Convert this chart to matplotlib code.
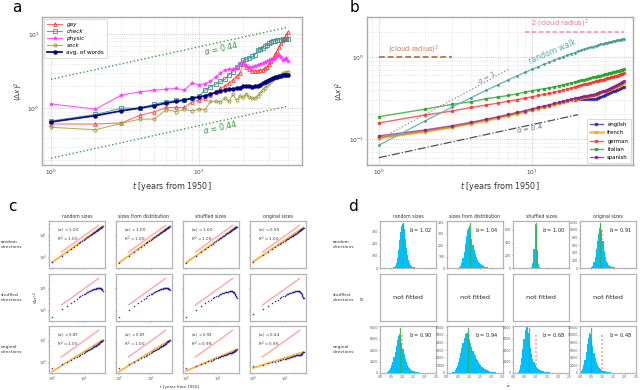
import matplotlib
matplotlib.use("Agg")
import matplotlib.pyplot as plt
from matplotlib.ticker import NullFormatter, FixedLocator

# ======================= DATA =======================
years = list(range(1, 41))

# ---- panel a ----
a_gay = [0.61, 0.61, 0.63, 0.80, 0.89, 1.02, 1.02, 1.02, 1.22, 1.28,
         1.35, 1.50, 1.65, 1.85, 2.0, 2.2, 2.4, 2.7, 3.0, 3.9,
         3.6, 3.4, 3.2, 3.2, 3.2, 3.3, 3.3, 3.5, 3.6, 3.9,
         4.3, 4.8, 5.4, 6.0, 6.8, 7.6, 8.3, 9.0, 9.8, 10.6]
a_check = [0.67, 0.82, 1.0, 1.0, 1.13, 1.22, 1.27, 1.30, 1.38, 1.45,
           1.75, 1.95, 2.1, 2.3, 2.45, 2.8, 3.1, 3.6, 3.9, 4.45,
           4.6, 4.8, 5.0, 5.3, 6.1, 6.3, 6.6, 6.9, 7.2, 7.5,
           7.8, 8.0, 8.2, 8.3, 8.4, 8.4, 8.5, 8.5, 8.6, 8.5]
a_physic = [1.14, 0.97, 1.5, 1.66, 1.75, 1.8, 1.85, 1.75, 2.2, 2.05,
            2.15, 2.3, 2.65, 2.95, 3.3, 3.35, 3.4, 3.45, 4.0, 4.2,
            3.8, 3.6, 3.65, 3.75, 3.85, 3.95, 4.05, 4.15, 4.3, 4.45,
            4.55, 4.65, 4.8, 5.0, 5.2, 4.9, 4.5, 4.65, 4.8, 4.35]
a_sock = [0.55, 0.51, 0.62, 0.71, 0.71, 0.95, 0.90, 0.96, 0.92, 0.96,
          0.95, 1.23, 1.23, 1.21, 1.36, 1.23, 1.53, 1.29, 1.44, 1.40,
          1.55, 1.40, 1.35, 1.35, 1.45, 1.6, 1.75, 1.9, 2.05, 2.2,
          2.35, 2.45, 2.55, 2.65, 2.75, 2.85, 2.95, 3.0, 3.05, 3.1]
a_avg = [0.65, 0.79, 0.92, 1.0, 1.08, 1.17, 1.23, 1.29, 1.35, 1.41,
         1.47, 1.55, 1.63, 1.70, 1.75, 1.80, 1.83, 1.85, 1.90, 2.0,
         2.0, 1.97, 1.96, 1.97, 2.02, 2.08, 2.16, 2.25, 2.35, 2.43,
         2.5, 2.56, 2.62, 2.67, 2.71, 2.74, 2.77, 2.79, 2.80, 2.81]
a_ref_alpha = 0.44
a_ref_upper = 2.45
a_ref_lower = 0.21
a_ref_span = [1, 40]

# ---- panel b ----
b_english = [0.105, 0.125, 0.141, 0.156, 0.170, 0.183, 0.195, 0.206, 0.217, 0.228,
             0.238, 0.247, 0.256, 0.265, 0.274, 0.283, 0.291, 0.298, 0.303, 0.306,
             0.306, 0.305, 0.304, 0.305, 0.307, 0.311, 0.317, 0.324, 0.332, 0.341,
             0.350, 0.360, 0.370, 0.380, 0.390, 0.400, 0.410, 0.418, 0.426, 0.433]
b_french = [0.103, 0.124, 0.140, 0.155, 0.168, 0.181, 0.193, 0.204, 0.215, 0.226,
            0.236, 0.245, 0.254, 0.263, 0.272, 0.281, 0.289, 0.297, 0.305, 0.312,
            0.318, 0.323, 0.328, 0.334, 0.340, 0.347, 0.355, 0.363, 0.372, 0.381,
            0.390, 0.399, 0.408, 0.417, 0.426, 0.436, 0.446, 0.456, 0.466, 0.476]
b_german = [0.158, 0.197, 0.220, 0.243, 0.260, 0.275, 0.290, 0.302, 0.315, 0.328,
            0.340, 0.350, 0.360, 0.372, 0.383, 0.395, 0.406, 0.418, 0.430, 0.442,
            0.453, 0.464, 0.474, 0.484, 0.494, 0.503, 0.512, 0.521, 0.530, 0.539,
            0.548, 0.557, 0.566, 0.575, 0.584, 0.593, 0.602, 0.610, 0.619, 0.628]
b_italian = [0.188, 0.232, 0.265, 0.285, 0.310, 0.325, 0.340, 0.355, 0.372, 0.388,
             0.400, 0.410, 0.420, 0.433, 0.445, 0.457, 0.469, 0.481, 0.493, 0.505,
             0.517, 0.528, 0.539, 0.550, 0.561, 0.572, 0.582, 0.592, 0.602, 0.612,
             0.622, 0.632, 0.642, 0.652, 0.662, 0.671, 0.680, 0.689, 0.698, 0.710]
b_spanish = [0.110, 0.130, 0.146, 0.161, 0.175, 0.188, 0.200, 0.212, 0.223, 0.234,
             0.244, 0.254, 0.263, 0.272, 0.281, 0.290, 0.298, 0.306, 0.313, 0.320,
             0.326, 0.331, 0.336, 0.342, 0.348, 0.355, 0.363, 0.371, 0.380, 0.389,
             0.398, 0.408, 0.418, 0.428, 0.439, 0.450, 0.463, 0.477, 0.493, 0.510]
b_random_walk = [0.085, 0.167, 0.245, 0.319, 0.391, 0.459, 0.525, 0.587, 0.647, 0.705,
                 0.760, 0.813, 0.863, 0.912, 0.958, 1.002, 1.045, 1.085, 1.124, 1.161,
                 1.197, 1.231, 1.264, 1.296, 1.326, 1.354, 1.382, 1.408, 1.433, 1.457,
                 1.480, 1.502, 1.524, 1.544, 1.563, 1.582, 1.600, 1.617, 1.633, 1.649]
b_cloud_r2 = 1.0
b_cloud_span = [1, 3]
b_two_cloud_span = [9, 40]
b_ref1_coef, b_ref1_alpha, b_ref1_span = 0.1, 1.0, [1, 7]
b_ref04_coef, b_ref04_alpha, b_ref04_span = 0.06, 0.4, [1, 20]

# ---- panel c ----
c_col_titles = ["random sizes", "sizes from distribution", "shuffled sizes", "original sizes"]
c_row_titles = ["random\ndirections", "shuffled\ndirections", "original\ndirections"]

c_randsize_randdir = [0.58, 1.16, 1.74, 2.32, 2.9, 3.48, 4.06, 4.64, 5.22, 5.8,
                      6.38, 6.96, 7.54, 8.12, 8.7, 9.28, 9.86, 10.4, 11.0, 11.6,
                      12.2, 12.8, 13.3, 13.9, 14.5, 15.1, 15.7, 16.2, 16.8, 17.4,
                      18.0, 18.6, 19.1, 19.7, 20.3, 20.9, 21.5, 22.0, 22.6, 23.2]
c_distsize_randdir = [0.57, 1.15, 1.73, 2.31, 2.88, 3.46, 4.05, 4.62, 5.2, 5.78,
                      6.35, 6.93, 7.5, 8.1, 8.68, 9.25, 9.83, 10.4, 11.0, 11.6,
                      12.1, 12.7, 13.3, 13.9, 14.5, 15.0, 15.6, 16.2, 16.8, 17.3,
                      17.9, 18.5, 19.1, 19.6, 20.2, 20.8, 21.4, 21.9, 22.5, 23.1]
c_shufsize_randdir = [0.56, 1.13, 1.7, 2.26, 2.82, 3.38, 3.94, 4.5, 5.06, 5.62,
                      6.18, 6.74, 7.3, 7.86, 8.42, 8.98, 9.54, 10.1, 10.6, 11.2,
                      11.8, 12.3, 12.9, 13.5, 14.0, 14.6, 15.2, 15.7, 16.3, 16.9,
                      17.4, 18.0, 18.5, 19.1, 19.7, 20.2, 20.8, 21.3, 21.9, 22.5]
c_origsize_randdir = [0.62, 1.2, 1.75, 2.28, 2.8, 3.3, 3.8, 4.3, 4.8, 5.3,
                      5.75, 6.2, 6.7, 7.15, 7.6, 8.05, 8.5, 8.95, 9.4, 9.85,
                      10.3, 10.7, 11.1, 11.5, 12.0, 12.6, 13.2, 13.8, 14.3, 14.8,
                      15.3, 15.8, 16.3, 16.8, 17.3, 17.8, 18.3, 18.8, 19.3, 19.8]
c_randsize_shufdir = [0.52, 1.07, 1.6, 2.1, 2.65, 3.15, 3.65, 4.1, 4.55, 5.0,
                      5.4, 5.8, 6.2, 6.55, 6.9, 7.2, 7.5, 7.8, 8.05, 8.3,
                      8.5, 8.7, 8.9, 9.05, 9.2, 9.3, 9.4, 9.45, 9.5, 9.5,
                      9.5, 9.45, 9.4, 9.3, 9.15, 9.0, 8.7, 8.3, 7.8, 7.2]
c_distsize_shufdir = [0.5, 1.05, 1.58, 2.1, 2.6, 3.1, 3.6, 4.05, 4.5, 4.95,
                      5.35, 5.75, 6.15, 6.5, 6.85, 7.15, 7.45, 7.75, 8.0, 8.25,
                      8.45, 8.65, 8.85, 9.0, 9.15, 9.25, 9.35, 9.45, 9.5, 9.55,
                      9.6, 9.6, 9.55, 9.5, 9.4, 9.3, 9.1, 8.8, 8.4, 8.0]
c_shufsize_shufdir = [0.52, 1.05, 1.55, 2.0, 2.45, 2.9, 3.3, 3.7, 4.05, 4.4,
                      4.7, 5.0, 5.25, 5.5, 5.7, 5.9, 6.1, 6.25, 6.4, 6.5,
                      6.6, 6.7, 6.8, 6.85, 6.9, 6.9, 6.9, 6.85, 6.8, 6.7,
                      6.55, 6.35, 6.1, 5.8, 5.45, 5.0, 4.6, 4.2, 3.8, 3.3]
c_origsize_shufdir = [0.65, 1.15, 1.6, 2.05, 2.5, 2.9, 3.3, 3.7, 4.05, 4.4,
                      4.7, 5.0, 5.3, 5.55, 5.8, 6.0, 6.2, 6.35, 6.5, 6.65,
                      6.75, 6.85, 6.95, 7.0, 7.05, 7.05, 7.0, 6.95, 6.85, 6.7,
                      6.5, 6.25, 5.95, 5.6, 5.2, 4.8, 4.4, 4.0, 3.6, 3.3]
c_randsize_origdir = [0.56, 0.82, 1.05, 1.28, 1.5, 1.72, 1.94, 2.15, 2.37, 2.58,
                      2.78, 2.98, 3.18, 3.38, 3.58, 3.78, 3.98, 4.18, 4.38, 4.58,
                      4.78, 4.98, 5.18, 5.38, 5.58, 5.78, 5.98, 6.18, 6.4, 6.65,
                      6.95, 7.25, 7.55, 7.8, 8.05, 8.3, 8.6, 8.85, 9.1, 9.4]
c_distsize_origdir = [0.55, 0.81, 1.04, 1.27, 1.49, 1.71, 1.93, 2.14, 2.36, 2.57,
                      2.77, 2.97, 3.17, 3.37, 3.57, 3.77, 3.97, 4.17, 4.37, 4.57,
                      4.77, 4.97, 5.17, 5.37, 5.57, 5.77, 5.97, 6.17, 6.39, 6.64,
                      6.94, 7.24, 7.54, 7.79, 8.04, 8.29, 8.59, 8.84, 9.09, 9.39]
c_shufsize_origdir = [0.56, 0.7, 0.84, 0.96, 1.07, 1.17, 1.27, 1.36, 1.45, 1.54,
                      1.62, 1.7, 1.78, 1.85, 1.92, 1.99, 2.06, 2.12, 2.18, 2.24,
                      2.3, 2.36, 2.42, 2.47, 2.52, 2.57, 2.62, 2.66, 2.7, 2.74,
                      2.78, 2.84, 2.92, 3.02, 3.14, 3.28, 3.4, 3.5, 3.58, 3.65]
c_origsize_origdir = [0.68, 0.78, 0.88, 0.97, 1.05, 1.12, 1.19, 1.26, 1.32, 1.38,
                      1.44, 1.49, 1.54, 1.59, 1.64, 1.69, 1.74, 1.78, 1.82, 1.86,
                      1.9, 1.94, 1.98, 2.02, 2.06, 2.1, 2.12, 2.12, 2.1, 2.08,
                      2.08, 2.1, 2.16, 2.26, 2.4, 2.55, 2.65, 2.72, 2.78, 2.8]
# fitted exponents / prefactors (rows: random dirs, original dirs)
c_fit_alpha_rand = [1.00, 1.00, 1.00, 0.95]
c_fit_coef_rand = [0.58, 0.57, 0.56, 0.62]
c_r2_rand = [1.00, 1.00, 1.00, 1.00]
c_fit_alpha_orig = [0.87, 0.87, 0.59, 0.44]
c_fit_coef_orig = [0.38, 0.38, 0.41, 0.55]
c_r2_orig = [1.00, 1.00, 0.98, 0.96]
c_guide_coef = 0.85
c_guide_span = [2, 30]

# ---- panel d (histograms of fitted alpha, bin width 0.05) ----
d_bin_width = 0.05
d_rs_rd_start = 0.60
d_rs_rd_counts = [5, 15, 40, 80, 150, 230, 300, 350, 365, 320, 240, 170, 110, 70, 45,
                  28, 17, 10, 6, 4, 2, 1]
d_ds_rd_start = 0.50
d_ds_rd_counts = [3, 8, 20, 45, 85, 140, 210, 280, 330, 355, 370, 300, 250, 200, 160,
                  125, 95, 72, 55, 42, 32, 24, 18, 13, 10, 7, 5, 4, 3, 2, 1]
d_ss_rd_start = 0.80
d_ss_rd_counts = [10, 80, 300, 690, 650, 280, 70, 15, 3]
d_os_rd_start = 0.45
d_os_rd_counts = [5, 20, 60, 150, 300, 500, 720, 900, 1050, 1150, 1000, 700, 450, 280,
                  180, 120, 80, 55, 40, 30, 22, 16, 12, 9, 7, 5, 4, 3, 2, 2, 1]
d_rs_od_start = 0.25
d_rs_od_counts = [50, 150, 300, 550, 900, 1400, 2000, 2800, 3700, 4700, 5700, 6500, 6900,
                  6300, 5200, 4200, 3300, 2500, 1900, 1400, 1050, 800, 600, 450, 350,
                  270, 200, 160, 120, 90, 70, 55, 40, 30, 22, 16, 12, 8, 5, 3]
d_ds_od_start = 0.20
d_ds_od_counts = [30, 80, 180, 350, 600, 950, 1400, 1950, 2600, 3300, 4000, 4600, 5100,
                  5300, 5200, 4900, 4400, 3900, 3400, 2950, 2550, 2200, 1900, 1650, 1400,
                  1200, 1000, 850, 700, 580, 480, 400, 330, 270, 220, 180, 145, 115, 90,
                  70, 55, 40, 30, 20, 12, 6]
d_ss_od_start = 0.15
d_ss_od_counts = [50, 200, 600, 1400, 2600, 4200, 6000, 7600, 8500, 8200, 7000, 5600,
                  4300, 3300, 2500, 1900, 1450, 1100, 850, 680, 550, 450, 370, 300, 250,
                  200, 165, 135, 110, 90, 72, 58, 46, 36, 28, 21, 15, 10, 7, 4]
d_os_od_start = 0.00
d_os_od_counts = [100, 400, 1000, 2000, 3500, 5400, 7500, 9300, 10400, 10200, 8800, 7000,
                  5300, 3900, 2900, 2200, 1700, 1300, 1000, 800, 650, 520, 420, 340, 280,
                  230, 190, 155, 125, 100, 80, 62, 48, 36, 27, 20, 14, 9, 5]
d_mean_rand = [1.02, 1.04, 1.00, 0.91]
d_mean_orig = [0.90, 0.94, 0.68, 0.48]
d_yticks_rand = [[0, 100, 200, 300], [0, 100, 200, 300, 400], [0, 200, 400, 600],
                 [0, 200, 400, 600, 800, 1000, 1200]]
d_yticks_orig = [[0, 2000, 4000, 6000, 8000], [0, 1000, 2000, 3000, 4000, 5000, 6000],
                 [0, 2000, 4000, 6000, 8000], [0, 2000, 4000, 6000, 8000, 10000, 12000]]
d_xticks = [0.0, 0.5, 1.0, 1.5, 2.0, 2.5]

# ======================= FIGURE =======================
W, H = 640, 390
fig = plt.figure(figsize=(W / 100, H / 100), dpi=100)
plt.rcParams['font.family'] = ['DejaVu Sans']
plt.rcParams['mathtext.fontset'] = 'dejavusans'


def px_axes(x0, y0, w, h):
    return fig.add_axes([x0 / W, 1 - (y0 + h) / H, w / W, h / H])


def frame(ax, color='#aaaaaa', lw=1.0):
    for s in ax.spines.values():
        s.set_color(color)
        s.set_linewidth(lw)


def loggrid(ax):
    ax.grid(True, which='major', ls=':', color='#b5b5b5', lw=0.6)
    ax.grid(True, which='minor', ls=':', color='#d5d5d5', lw=0.5)
    ax.set_axisbelow(True)


# ---------------- panel a ----------------
axa = px_axes(42, 17, 260, 148)
axa.set_xscale('log')
axa.set_yscale('log')
axa.plot(years, a_gay, color='#ff7070', lw=0.8, marker='^', ms=2.6, mfc='none',
         mec='#ff3030', mew=0.6, label='gay')
axa.plot(years, a_check, color='#5fa5a5', lw=0.8, marker='s', ms=2.4, mfc='none',
         mec='#3f9090', mew=0.6, label='check')
axa.plot(years, a_physic, color='#ff55ff', lw=0.8, marker='*', ms=3.2,
         mfc='#ff33ff', mec='#ff33ff', mew=0.3, label='physic')
axa.plot(years, a_sock, color='#b3b35c', lw=0.8, marker='p', ms=2.6, mfc='none',
         mec='#9a9a40', mew=0.6, label='sock')
axa.plot(years, a_avg, color='#10108a', lw=1.3, marker='o', ms=2.2,
         mfc='#000080', mec='#000080', label='avg. of words')
for coef in (a_ref_upper, a_ref_lower):
    axa.plot(a_ref_span, [coef * s ** a_ref_alpha for s in a_ref_span],
             ls=':', color='#3aa03a', lw=1.0)
axa.text(10.8, 5.9, r'$\alpha$ = 0.44', color='#3a9a3a', fontsize=5.6,
         rotation=12, rotation_mode='anchor', ha='left', va='center')
axa.text(10.6, 0.50, r'$\alpha$ = 0.44', color='#3a9a3a', fontsize=5.6,
         rotation=12, rotation_mode='anchor', ha='left', va='center')
axa.set_xlim(0.87, 49.9)
axa.set_ylim(0.17, 17.1)
loggrid(axa)
frame(axa)
axa.tick_params(which='both', length=0, labelsize=4.2, pad=2, colors='#444444')
axa.yaxis.set_minor_formatter(NullFormatter())
axa.xaxis.set_minor_formatter(NullFormatter())
axa.set_xlabel('$t$ [years from 1950]', fontsize=5.8, labelpad=2, color='#333333')
axa.set_ylabel(r'$(\Delta x)^2$', fontsize=5.2, labelpad=2, color='#333333')
lega = axa.legend(loc='upper left', fontsize=4.1, frameon=True, borderpad=0.5,
                  handlelength=2.6, labelspacing=0.35, borderaxespad=0.4)
lega.get_frame().set_edgecolor('#cccccc')
lega.get_frame().set_linewidth(0.6)
for txt in lega.get_texts()[:4]:
    txt.set_style('italic')

# ---------------- panel b ----------------
axb = px_axes(367, 17, 266, 148)
axb.set_xscale('log')
axb.set_yscale('log')
lang_series = [(b_english, '#2323a8', 'english', 1.0),
               (b_french, '#ffa500', 'french', 1.8),
               (b_german, '#ff2a2a', 'german', 1.0),
               (b_italian, '#22a022', 'italian', 1.0),
               (b_spanish, '#8b1f8b', 'spanish', 1.0)]
for vals, col, name, lw in lang_series:
    axb.plot(years, vals, color=col, lw=lw, alpha=0.75, marker='s', ms=1.5,
             mfc=col, mec=col, label=name)
axb.plot(years, b_random_walk, color='#66b5b5', lw=0.9, marker='o', ms=1.0,
         mfc='#4a9a9a', mec='#4a9a9a')
axb.plot(b_cloud_span, [b_cloud_r2, b_cloud_r2], ls=(0, (3, 1.5)), color='#c27a52', lw=1.4)
axb.plot(b_two_cloud_span, [2 * b_cloud_r2, 2 * b_cloud_r2], ls=(0, (3, 1.5)),
         color='#f08cb4', lw=1.1)
axb.plot(b_ref1_span, [b_ref1_coef * s ** b_ref1_alpha for s in b_ref1_span],
         ls=':', color='#8a8a8a', lw=0.9)
axb.plot(b_ref04_span, [b_ref04_coef * s ** b_ref04_alpha for s in b_ref04_span],
         ls='-.', color='#505050', lw=0.9)
axb.text(1.15, 1.2, r'(cloud radius)$^2$', color='#c27a52', fontsize=4.9,
         ha='left', va='center')
axb.text(9.85, 2.49, r'2$\cdot$(cloud radius)$^2$', color='#e86f9c', fontsize=4.9,
         ha='left', va='center')
axb.text(13.7, 1.14, 'random walk', color='#5aa8a8', fontsize=5.6, rotation=23,
         ha='center', va='center', rotation_mode='anchor')
axb.text(5.1, 0.57, r'$\alpha$ = 1', color='#8a8a8a', fontsize=5.0, rotation=29,
         ha='center', va='center', rotation_mode='anchor')
axb.text(9.7, 0.137, r'$\alpha$ = 0.4', color='#707070', fontsize=5.0, rotation=10,
         ha='center', va='center', rotation_mode='anchor')
axb.set_xlim(0.836, 45.7)
axb.set_ylim(0.0489, 3.03)
loggrid(axb)
frame(axb)
axb.tick_params(which='both', length=0, labelsize=4.2, pad=2, colors='#444444')
axb.yaxis.set_minor_formatter(NullFormatter())
axb.xaxis.set_minor_formatter(NullFormatter())
axb.set_xlabel('$t$ [years from 1950]', fontsize=5.8, labelpad=2, color='#333333')
axb.set_ylabel(r'$(\Delta x)^2$', fontsize=5.2, labelpad=2, color='#333333')
legb = axb.legend(loc='lower right', fontsize=3.9, frameon=True, borderpad=0.6,
                  handlelength=2.4, labelspacing=0.6, borderaxespad=0.3)
legb.get_frame().set_edgecolor('#cccccc')
legb.get_frame().set_linewidth(0.6)

# ---------------- panel c ----------------
c_series = [[c_randsize_randdir, c_distsize_randdir, c_shufsize_randdir, c_origsize_randdir],
            [c_randsize_shufdir, c_distsize_shufdir, c_shufsize_shufdir, c_origsize_shufdir],
            [c_randsize_origdir, c_distsize_origdir, c_shufsize_origdir, c_origsize_origdir]]
c_fits = {0: (c_fit_alpha_rand, c_fit_coef_rand, c_r2_rand),
          2: (c_fit_alpha_orig, c_fit_coef_orig, c_r2_orig)}
c_left = [49, 116, 183, 250]
c_top = [221, 274, 326]
c_w, c_h = 56, 47
for r in range(3):
    for c in range(4):
        ax = px_axes(c_left[c], c_top[r], c_w, c_h)
        ax.set_xscale('log')
        ax.set_yscale('log')
        ax.plot(c_guide_span, [c_guide_coef * s for s in c_guide_span],
                color='#ff9c9c', lw=1.0, alpha=0.9)
        if r in c_fits:
            al, co, r2 = c_fits[r]
            ax.plot([years[0], years[-1]], [co[c] * years[0] ** al[c], co[c] * years[-1] ** al[c]],
                    color='#ffb030', lw=1.3, zorder=2)
            ax.text(0.15, 0.79, r'$\langle\alpha\rangle$ = %.2f' % al[c], transform=ax.transAxes,
                    fontsize=2.9, ha='left', va='center', color='#333333')
            ax.text(0.15, 0.62, r'$R^2$ = %.2f' % r2[c], transform=ax.transAxes,
                    fontsize=2.9, ha='left', va='center', color='#333333')
        ax.plot(years, c_series[r][c], ls='none', marker='o', ms=1.1, mfc='#1c1c9c',
                mec='#1c1c9c', mew=0, zorder=3, alpha=0.9)
        ax.set_xlim(0.8, 48)
        ax.set_ylim(0.33, 40)
        frame(ax, '#b5b5b5', 0.9)
        ax.tick_params(which='major', length=1.0, width=0.4, labelsize=2.6, pad=0.5,
                       colors='#555555')
        ax.tick_params(which='minor', length=0.6, width=0.3, colors='#777777')
        ax.xaxis.set_minor_formatter(NullFormatter())
        ax.yaxis.set_minor_formatter(NullFormatter())
        if c != 0:
            ax.yaxis.set_major_formatter(NullFormatter())
        if r != 2:
            ax.xaxis.set_major_formatter(NullFormatter())
        if r == 0:
            ax.set_title(c_col_titles[c], fontsize=3.3, pad=2.5, color='#333333')
for r in range(3):
    fig.text(1 / W, 1 - (c_top[r] + c_h / 2) / H, c_row_titles[r], fontsize=3.2,
             ha='left', va='center', color='#333333', linespacing=1.1)
fig.text(36 / W, 1 - 298 / H, r'$(\Delta x)^2$', fontsize=3.2, rotation=90,
         ha='center', va='center', color='#333333')
fig.text(180 / W, 1 - 386.8 / H, 't [years from 1950]', fontsize=2.9,
         ha='center', va='center', color='#333333')

# ---------------- panel d ----------------
d_hists = [[(d_rs_rd_start, d_rs_rd_counts), (d_ds_rd_start, d_ds_rd_counts),
            (d_ss_rd_start, d_ss_rd_counts), (d_os_rd_start, d_os_rd_counts)],
           None,
           [(d_rs_od_start, d_rs_od_counts), (d_ds_od_start, d_ds_od_counts),
            (d_ss_od_start, d_ss_od_counts), (d_os_od_start, d_os_od_counts)]]
d_means = {0: d_mean_rand, 2: d_mean_orig}
d_ticks = {0: d_yticks_rand, 2: d_yticks_orig}
d_left = [380, 446.7, 513.3, 580]
d_top = [221, 274, 326]
d_w, d_h = 56, 47
for r in range(3):
    for c in range(4):
        ax = px_axes(d_left[c], d_top[r], d_w, d_h)
        frame(ax, '#b5b5b5', 0.9)
        if r == 1:
            ax.set_xticks([])
            ax.set_yticks([])
            ax.text(0.5, 0.5, 'not fitted', transform=ax.transAxes, fontsize=4.6,
                    ha='center', va='center', color='#222222')
            continue
        start, counts = d_hists[r][c]
        lefts = [start + i * d_bin_width for i in range(len(counts))]
        ax.bar(lefts, counts, width=d_bin_width, align='edge', color='#00bfff',
               lw=0, zorder=2)
        ticks = d_ticks[r][c]
        ytop = ticks[-1] * 1.03 if r == 2 else max(counts) * 1.07
        if r == 0 and c in (1, 3):
            ytop = ticks[-1] * 1.03
        ax.set_ylim(0, ytop)
        ax.set_xlim(0, 2.5)
        ax.axvline(1.0, ymax=0.82, color='#ff8080', ls=':', lw=1.1, zorder=1)
        ax.axvline(d_means[r][c], ymax=0.95, color='#3cb043', lw=0.9, alpha=0.85, zorder=3)
        ax.text(0.72, 0.79, r'$\hat{\alpha}$ = %.2f' % d_means[r][c], transform=ax.transAxes,
                fontsize=3.6, ha='center', va='center', color='#222222')
        ax.yaxis.set_major_locator(FixedLocator(ticks))
        ax.xaxis.set_major_locator(FixedLocator(d_xticks))
        ax.tick_params(length=1.0, width=0.4, labelsize=2.3, pad=0.5, colors='#555555')
        if r == 0:
            ax.xaxis.set_major_formatter(NullFormatter())
        else:
            ax.set_xticklabels(['%.1f' % v for v in d_xticks])
        if r == 0:
            ax.set_title(c_col_titles[c], fontsize=3.3, pad=2.5, color='#333333')
for r in range(3):
    fig.text(333 / W, 1 - (d_top[r] + d_h / 2) / H, c_row_titles[r], fontsize=3.2,
             ha='left', va='center', color='#333333', linespacing=1.1)
fig.text(363 / W, 1 - 298 / H, r'$\alpha$', fontsize=3.4, rotation=90,
         ha='center', va='center', color='#333333')
fig.text(508 / W, 1 - 386.5 / H, r'$\hat{\alpha}$', fontsize=3.0,
         ha='center', va='center', color='#333333')

# ---------------- panel letters ----------------
for letter, x, y in [('a', 12, 12), ('b', 350, 12), ('c', 8, 211), ('d', 348, 211)]:
    fig.text(x / W, 1 - y / H, letter, fontsize=11, ha='left', va='baseline', color='black')

fig.savefig('out.png', dpi=100)
